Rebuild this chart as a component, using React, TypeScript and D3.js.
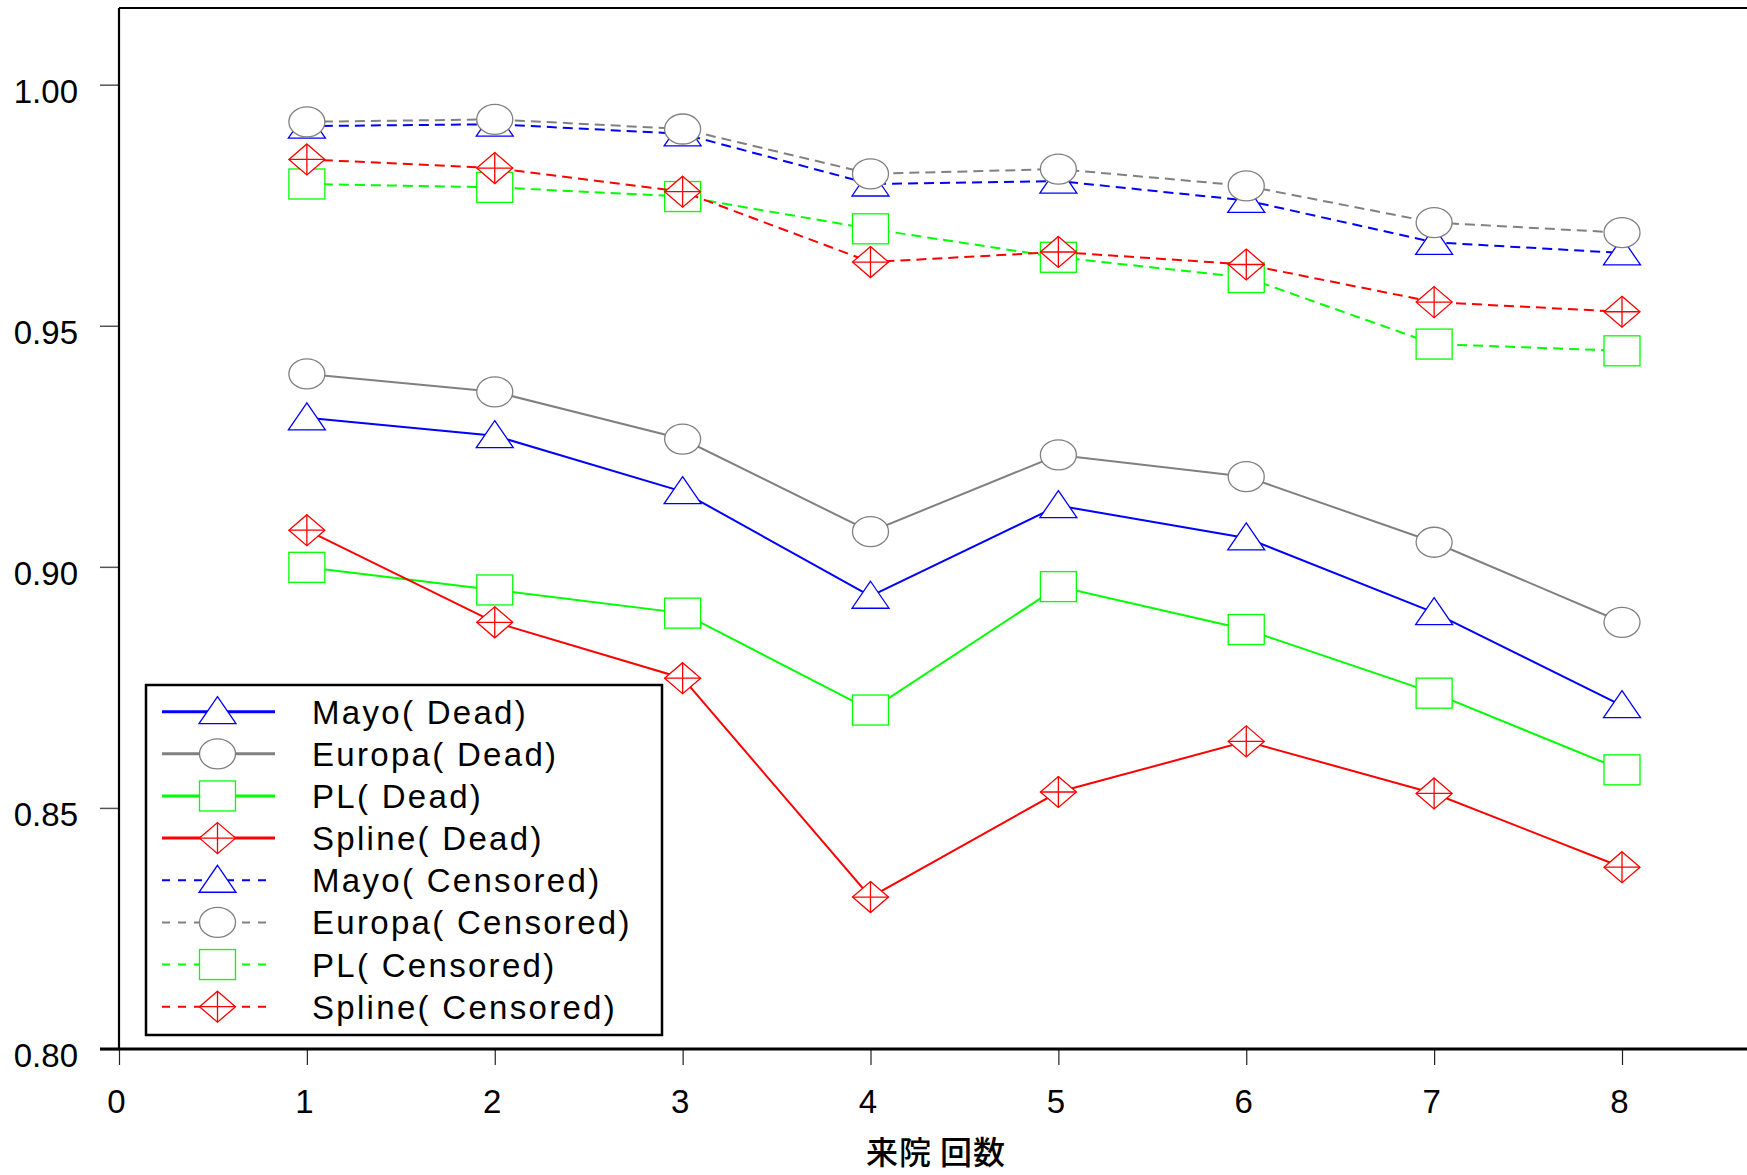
import React, { useEffect, useRef } from 'react';
import * as d3 from 'd3';

// visit number on the x axis
const visits = [1, 2, 3, 4, 5, 6, 7, 8];

// survival estimates
const mayoDead = [0.9309, 0.9272, 0.9156, 0.8939, 0.9127, 0.9060, 0.8905, 0.8712];
const europaDead = [0.9400, 0.9363, 0.9265, 0.9073, 0.9232, 0.9187, 0.9051, 0.8885];
const plDead = [0.8999, 0.8952, 0.8904, 0.8703, 0.8959, 0.8870, 0.8738, 0.8579];
const splineDead = [0.9076, 0.8885, 0.8769, 0.8315, 0.8533, 0.8638, 0.8530, 0.8377];

const mayoCensored = [0.9914, 0.9918, 0.9898, 0.9794, 0.9800, 0.9760, 0.9673, 0.9651];
const europaCensored = [0.9923, 0.9928, 0.9908, 0.9815, 0.9825, 0.9790, 0.9714, 0.9693];
const plCensored = [0.9794, 0.9787, 0.9768, 0.9701, 0.9642, 0.9600, 0.9462, 0.9448];
const splineCensored = [0.9845, 0.9827, 0.9778, 0.9632, 0.9653, 0.9627, 0.9549, 0.9529];

const yTickLabels = ['0.80', '0.85', '0.90', '0.95', '1.00'];
const xTickLabels = ['0', '1', '2', '3', '4', '5', '6', '7', '8'];
const xTitle = '来院 回数';

const legendLabels = [
    'Mayo( Dead)', 'Europa( Dead)', 'PL( Dead)', 'Spline( Dead)',
    'Mayo( Censored)', 'Europa( Censored)', 'PL( Censored)', 'Spline( Censored)',
];

const seriesList = [
    { values: mayoDead, color: '#0000ff', marker: 'triangle', dashed: false },
    { values: europaDead, color: '#808080', marker: 'circle', dashed: false },
    { values: plDead, color: '#00ff00', marker: 'square', dashed: false },
    { values: splineDead, color: '#ff0000', marker: 'diamond', dashed: false },
    { values: mayoCensored, color: '#0000ff', marker: 'triangle', dashed: true },
    { values: europaCensored, color: '#808080', marker: 'circle', dashed: true },
    { values: plCensored, color: '#00ff00', marker: 'square', dashed: true },
    { values: splineCensored, color: '#ff0000', marker: 'diamond', dashed: true },
];

const FONT = '"Liberation Sans", Arial, sans-serif';

// draws one marker shape centred on (0,0) inside g
const drawMarker = (g: any, kind: string, color: string) => {
    const sw = 1.3;
    if (kind === 'triangle') {
        g.append('path').attr('d', 'M0,-15L18.5,12L-18.5,12Z')
            .attr('fill', '#fff').attr('stroke', color).attr('stroke-width', sw);
    } else if (kind === 'circle') {
        g.append('ellipse').attr('rx', 18).attr('ry', 15)
            .attr('fill', '#fff').attr('stroke', color).attr('stroke-width', sw);
    } else if (kind === 'square') {
        g.append('rect').attr('x', -18).attr('y', -15).attr('width', 36).attr('height', 30)
            .attr('fill', '#fff').attr('stroke', color).attr('stroke-width', sw);
    } else {
        g.append('path').attr('d', 'M0,-15.5L18,0L0,15.5L-18,0Z')
            .attr('fill', '#fff').attr('stroke', color).attr('stroke-width', sw);
        g.append('path').attr('d', 'M0,-15.5V15.5M-18,0H18')
            .attr('fill', 'none').attr('stroke', color).attr('stroke-width', sw);
    }
};

const App = () => {
    const svgRef = useRef<SVGSVGElement>(null);

    useEffect(() => {
        const W = 1747;
        const H = 1175;
        const left = 119, top = 8, right = 1746, bottom = 1049;

        const svg = d3.select(svgRef.current);
        svg.selectAll('*').remove();
        svg.attr('width', W).attr('height', H);

        svg.append('rect').attr('width', W).attr('height', H).attr('fill', '#fff');

        const x = d3.scaleLinear().domain([0, 8.66]).range([left, right]);
        const y = d3.scaleLinear().domain([0.80, 1.0159]).range([bottom, top]);

        // y axis ticks (major + minor)
        const yMajor = yTickLabels.map(Number);
        const yMinor = d3.range(0.825, 1.01, 0.05);
        const yAx = svg.append('g').attr('transform', `translate(${left},0)`);
        yAx.call(d3.axisLeft(y).tickValues(yMinor).tickSize(9).tickFormat(() => ''));
        yAx.call(d3.axisLeft(y).tickValues(yMajor).tickSize(19).tickPadding(22)
            .tickFormat((d: any, i: number) => yTickLabels[i]));
        yAx.select('.domain').remove();
        yAx.selectAll('line').attr('stroke', '#555').attr('stroke-width', 1.5);
        yAx.selectAll('text').attr('font-family', FONT).attr('font-size', 33)
            .attr('fill', '#000').attr('dy', '0.53em');

        // x axis ticks
        const xMajor = xTickLabels.map(Number);
        const xMinor = d3.range(0.5, 8.6, 1);
        const xAx = svg.append('g').attr('transform', `translate(0,${bottom})`);
        xAx.call(d3.axisBottom(x).tickValues(xMinor).tickSize(8).tickFormat(() => ''));
        xAx.call(d3.axisBottom(x).tickValues(xMajor).tickSize(16).tickPadding(25)
            .tickFormat((d: any, i: number) => xTickLabels[i]));
        xAx.select('.domain').remove();
        xAx.selectAll('line').attr('stroke', '#222').attr('stroke-width', 1.2);
        xAx.selectAll('text').attr('font-family', FONT).attr('font-size', 33)
            .attr('fill', '#000').attr('dx', -3);

        // frame
        svg.append('line').attr('x1', left).attr('x2', W).attr('y1', top).attr('y2', top)
            .attr('stroke', '#000').attr('stroke-width', 2);
        svg.append('line').attr('x1', left).attr('x2', left).attr('y1', top).attr('y2', bottom)
            .attr('stroke', '#000').attr('stroke-width', 2.2);
        svg.append('line').attr('x1', left - 19).attr('x2', W).attr('y1', bottom).attr('y2', bottom)
            .attr('stroke', '#000').attr('stroke-width', 3);

        // x title
        svg.append('text').attr('x', 936).attr('y', 1164).attr('text-anchor', 'middle')
            .attr('font-family', '"Noto Sans CJK JP", sans-serif').attr('font-size', 32)
            .attr('font-weight', 500).attr('letter-spacing', 1).text(xTitle);

        // series
        const line = d3.line<number>()
            .x((d, i) => x(visits[i]))
            .y(d => y(d));

        seriesList.forEach(s => {
            const g = svg.append('g');
            g.append('path').attr('d', line(s.values))
                .attr('fill', 'none').attr('stroke', s.color)
                .attr('stroke-width', 2)
                .attr('stroke-dasharray', s.dashed ? '10 6' : null);
            s.values.forEach((v, i) => {
                const m = g.append('g').attr('transform', `translate(${x(visits[i])},${y(v)})`);
                drawMarker(m, s.marker, s.color);
            });
        });

        // legend
        const lg = svg.append('g');
        lg.append('rect').attr('x', 146).attr('y', 685).attr('width', 516).attr('height', 350)
            .attr('fill', '#fff').attr('stroke', '#000').attr('stroke-width', 2.5);
        seriesList.forEach((s, i) => {
            const ry = 711.7 + i * 42.14;
            lg.append('line').attr('x1', 162).attr('x2', s.dashed ? 268 : 275)
                .attr('y1', ry).attr('y2', ry)
                .attr('stroke', s.color).attr('stroke-width', s.dashed ? 2 : 3)
                .attr('stroke-dasharray', s.dashed ? '8 8' : null);
            const m = lg.append('g').attr('transform', `translate(217.5,${ry})`);
            drawMarker(m, s.marker, s.color);
            lg.append('text').attr('x', 312).attr('y', ry + 12)
                .attr('font-family', FONT).attr('font-size', 33)
                .attr('letter-spacing', 2.3).attr('fill', '#000')
                .text(legendLabels[i]);
        });
    }, []);

    return (
        <svg ref={svgRef} style={{ position: 'absolute', left: 0, top: 0, display: 'block' }}></svg>
    );
};

export default App;
